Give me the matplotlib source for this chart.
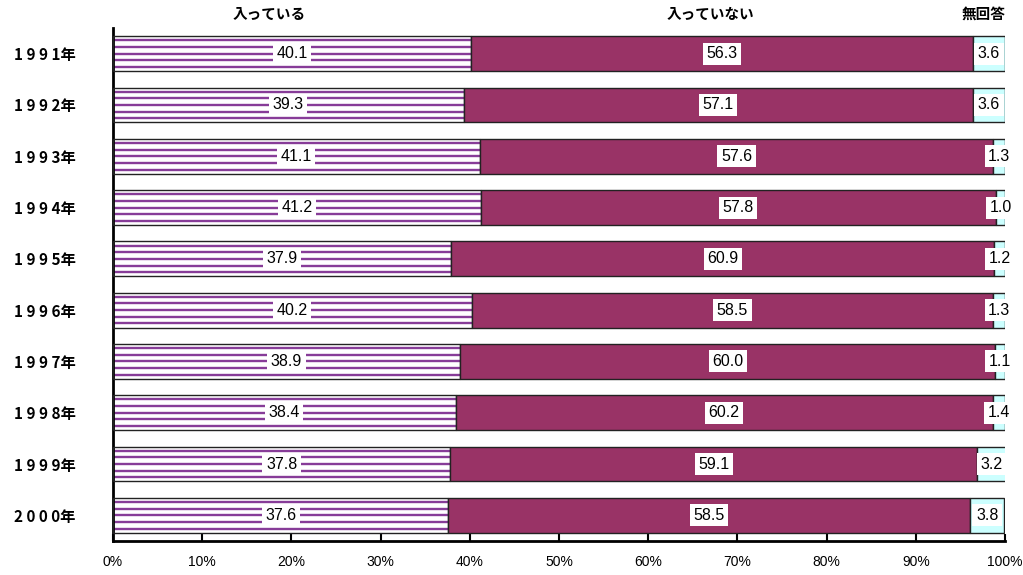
import matplotlib
matplotlib.use("Agg")
import matplotlib.pyplot as plt
import numpy as np

plt.rcParams['font.family'] = ['Liberation Sans', 'Noto Sans CJK JP', 'DejaVu Sans']

# survey results by year (%)
years = ["1991年", "1992年", "1993年", "1994年", "1995年",
         "1996年", "1997年", "1998年", "1999年", "2000年"]
joined = [40.1, 39.3, 41.1, 41.2, 37.9, 40.2, 38.9, 38.4, 37.8, 37.6]
not_joined = [56.3, 57.1, 57.6, 57.8, 60.9, 58.5, 60.0, 60.2, 59.1, 58.5]
no_answer = [3.6, 3.6, 1.3, 1.0, 1.2, 1.3, 1.1, 1.4, 3.2, 3.8]
headers = ["入っている", "入っていない", "無回答"]

joined = np.array(joined)
not_joined = np.array(not_joined)
no_answer = np.array(no_answer)
y = np.arange(len(years))

fig = plt.figure(figsize=(10.23, 5.75), dpi=100)
ax = fig.add_axes([113/1023, 1 - 541/575, 892/1023, 513/575])

h = 0.68
purple = "#873C98"
plum = "#993366"

# first segment: white with horizontal purple stripes
ax.barh(y, joined, height=h, color="white", linewidth=0, zorder=1)
for off in [-0.26, -0.13, 0.0, 0.13, 0.26]:
    ax.hlines(y + off, 0, joined, color=purple, linewidth=1.7, zorder=2)
ax.barh(y, joined, height=h, color="none", edgecolor="#222222", linewidth=1, zorder=3)
ax.barh(y, not_joined, left=joined, height=h, color=plum, edgecolor="#222222",
        linewidth=1, zorder=3)
ax.barh(y, no_answer, left=joined + not_joined, height=h, color="#CCFFFF",
        edgecolor="#222222", linewidth=1, zorder=3)

box = dict(facecolor="white", edgecolor="none", pad=2.5)
for i in y:
    ax.text(joined[i] / 2, i, f"{joined[i]:.1f}", ha="center", va="center",
            fontsize=11.5, bbox=box, zorder=5)
    ax.text(joined[i] + not_joined[i] / 2, i, f"{not_joined[i]:.1f}", ha="center",
            va="center", fontsize=11.5, bbox=box, zorder=5)
    ax.text(joined[i] + not_joined[i] + no_answer[i] / 2, i, f"{no_answer[i]:.1f}",
            ha="center", va="center", fontsize=11.5, bbox=box, zorder=5)

# column headers above the top bar
head_x = [17.5, 67.0, 97.6]
for hx, txt in zip(head_x, headers):
    ax.text(hx, -0.78, txt, ha="center", va="center", fontsize=10.5,
            fontweight="bold", family=["Noto Sans CJK JP"])

ax.set_xlim(0, 100)
ax.set_ylim(len(years) - 0.5, -0.5)
ax.set_xticks(np.arange(0, 101, 10))
ax.set_xticklabels([f"{v}%" for v in range(0, 101, 10)], fontsize=10)
ax.set_yticks(y)
ax.set_yticklabels([" ".join(s[:-1]) + s[-1] for s in years], fontsize=11,
                   fontweight="bold", family=["Noto Sans CJK JP"])
ax.tick_params(axis="y", length=0, pad=27)
ax.tick_params(axis="x", direction="in", length=5, width=1.5, pad=10)
ax.spines["top"].set_visible(False)
ax.spines["right"].set_visible(False)
ax.spines["left"].set_linewidth(2)
ax.spines["bottom"].set_linewidth(2)
ax.set_facecolor("white")

fig.savefig("out.png", dpi=100, facecolor="white")
